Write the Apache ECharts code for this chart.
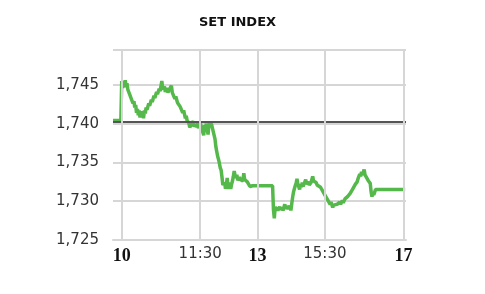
<!DOCTYPE html>
<html><head><meta charset="utf-8">
<script src="https://cdn.jsdelivr.net/npm/echarts@6/dist/echarts.min.js"></script>
<style>html,body{margin:0;padding:0;background:#fff}#c{width:485px;height:294px}</style>
</head><body><div id="c"></div>
<script>
const times = ["9:50","9:59",
"10:00","10:01","10:02","10:03","10:04","10:05","10:06","10:07","10:08","10:09",
"10:10","10:11","10:12","10:13","10:14","10:15","10:16","10:17","10:18","10:19",
"10:20","10:21","10:22","10:23","10:24","10:25","10:26","10:27","10:28","10:29",
"10:31","10:32","10:34","10:35","10:37","10:38","10:40","10:41","10:43","10:44",
"10:46","10:47","10:49","10:50","10:52","10:53","10:55","10:57","10:58","10:59",
"11:01","11:02","11:04","11:05","11:07","11:08","11:10","11:11","11:13","11:14",
"11:15","11:17","11:18","11:19","11:20","11:22","11:23","11:24","11:26","11:27",
"11:28","11:30","11:31","11:33","11:34","11:35","11:36","11:37","11:38","11:39",
"11:40","11:41","11:43","11:45","11:47","11:48","11:49","11:50","11:51","11:52",
"11:53","11:54","11:55","11:56","11:57","11:58","11:59","12:00","12:01","12:02",
"12:03","12:04","12:05","12:06","12:07","12:08","12:09","12:10","12:11","12:12",
"12:13","12:15","12:16","12:18","12:19","12:20","12:21","12:23","12:24","12:25",
"12:27","12:30","14:30","14:31","14:32","14:33","14:34","14:35","14:36","14:38",
"14:39","14:41","14:42","14:44","14:45","14:47","14:48","14:50","14:51","14:52",
"14:53","14:54","14:55","14:56","14:57","14:58","14:59","15:00","15:01","15:02",
"15:03","15:04","15:05","15:07","15:08","15:09","15:11","15:12","15:14","15:15",
"15:16","15:17","15:19","15:20","15:21","15:23","15:25","15:26","15:28","15:30",
"15:31","15:33","15:34","15:36","15:37","15:39","15:40","15:42","15:44","15:45",
"15:47","15:48","15:50","15:51","15:53","15:55","15:56","15:58","15:59","16:01",
"16:02","16:04","16:05","16:07","16:08","16:10","16:11","16:12","16:13","16:14",
"16:15","16:16","16:17","16:18","16:19","16:20","16:22","16:23","16:24","16:25",
"16:26","16:28","16:30","17:02"];
const values = [1740.4,1740.4,
1745.5,1744.6,1745.3,1744.7,1745.6,1744.9,1745.2,1744.4,1744.6,1743.8,
1744.0,1743.2,1743.4,1742.6,1742.9,1742.1,1742.4,1741.4,1741.9,1741.1,
1741.7,1740.8,1741.5,1741.0,1741.6,1740.7,1741.7,1741.3,1742.1,1741.8,
1742.6,1742.3,1743.1,1742.8,1743.6,1743.3,1744.1,1743.8,1744.5,1744.2,
1745.5,1744.4,1744.8,1744.1,1744.6,1744.0,1744.5,1744.9,1744.0,1743.9,
1743.2,1743.5,1742.7,1742.9,1742.2,1742.4,1741.4,1741.7,1740.7,1741.0,
1740.4,1740.1,1739.5,1739.3,1740.0,1740.3,1739.6,1739.9,1739.6,1740.1,
1739.4,1740.1,1739.7,1739.9,1738.5,1739.8,1739.5,1740.0,1739.3,1738.6,
1739.9,1740.2,1739.9,1740.0,1738.0,1737.0,1736.4,1735.8,1735.4,1734.9,
1734.3,1734.0,1733.1,1732.1,1731.9,1732.4,1731.6,1732.2,1733.0,1731.6,
1732.0,1732.4,1731.6,1732.2,1732.6,1733.2,1733.9,1733.3,1733.0,1733.4,
1732.7,1733.1,1732.8,1733.0,1732.6,1733.6,1732.8,1733.0,1732.5,1732.6,
1731.9,1732.0,1732.0,1728.9,1727.8,1729.3,1728.8,1729.2,1728.8,1729.3,
1728.9,1729.2,1728.8,1729.6,1729.0,1729.4,1729.0,1729.4,1728.8,1729.7,
1730.5,1731.2,1731.6,1732.0,1732.3,1732.9,1732.2,1731.9,1731.5,1732.2,
1731.8,1732.4,1731.9,1732.1,1732.8,1732.2,1732.5,1732.1,1732.4,1732.2,
1733.2,1732.6,1732.8,1732.4,1732.1,1732.2,1731.8,1731.9,1731.2,1731.0,
1730.6,1730.5,1730.0,1729.6,1729.9,1729.2,1729.5,1729.3,1729.6,1729.4,
1729.9,1729.6,1730.1,1729.8,1730.3,1730.1,1730.6,1730.5,1731.0,1731.2,
1731.6,1731.8,1732.2,1732.5,1732.9,1733.5,1733.2,1733.8,1733.4,1733.7,
1734.1,1733.4,1733.6,1733.0,1733.2,1732.6,1732.3,1731.2,1730.6,1731.2,
1730.8,1731.5,1731.5,1731.5];
const tickTimes = ["10:00","11:30","13:00","15:30","17:00"];
const tickLabels = ["10","11:30","13","15:30","17"];
const boldLabels = ["10","13","17"];
const prevClose = 1740.3;
const yTicks = [1725,1730,1735,1740,1745];

// trading-time axis: lunch break 12:30-14:30 compressed
function toAxis(t){
  const p=t.split(':'); const m=(+p[0])*60+(+p[1]);
  if(m<=750) return m-600;
  if(m>=870) return 173+(m-870);
  return 150+(m-750)*23/120;
}
const data = times.map((t,i)=>[toAxis(t),values[i]]);
const tickPos = tickTimes.map(toAxis);
const labelOf = {}; tickPos.forEach((p,i)=>labelOf[p]=tickLabels[i]);

const chart = echarts.init(document.getElementById('c'),null,{renderer:'canvas'});
chart.setOption({
  animation:false,
  title:{text:'SET INDEX',left:194,top:11,textStyle:{fontFamily:'DejaVu Sans',fontSize:13,fontWeight:'bold',color:'#111'}},
  grid:{left:113,right:79,top:50,bottom:54,containLabel:false},
  xAxis:{type:'value',min:toAxis("9:50"),max:toAxis("17:03"),
    axisLine:{show:true,lineStyle:{color:'#d6d6d6',width:2}},
    axisTick:{show:false,customValues:tickPos},
    axisLabel:{customValues:tickPos,margin:7,
      formatter:v=>{const l=labelOf[v]; if(l===undefined) return ''; return boldLabels.includes(l)?'{b|'+l+'}':'{n|'+l+'}';},
      rich:{b:{fontFamily:'Liberation Serif',fontWeight:'bold',fontSize:18,color:'#111'},
            n:{fontFamily:'DejaVu Sans',fontSize:15,color:'#333'}}},
    splitLine:{show:false}
  },
  yAxis:{type:'value',min:1725,max:1749.5,interval:5,
    axisLine:{show:false},axisTick:{show:false},
    axisLabel:{margin:14,fontFamily:'DejaVu Sans',fontSize:15,color:'#333',
      formatter:v=>yTicks.includes(v)?v.toLocaleString('en-US'):''},
    splitLine:{show:true,lineStyle:{color:'#d6d6d6',width:2}}
  },
  series:[{type:'line',data:data,showSymbol:false,symbol:'none',
    lineStyle:{color:'#55b84a',width:3.5},z:3,
    markLine:{silent:true,symbol:'none',label:{show:false},
      data:[{yAxis:prevClose,lineStyle:{color:'#555',width:2,type:'solid'}}]}
  },{type:'line',data:[],markLine:{silent:true,symbol:'none',label:{show:false},
      lineStyle:{color:'#d6d6d6',width:2,type:'solid'},
      data:tickPos.map(p=>({xAxis:p}))},z:1}]
});
</script></body></html>
